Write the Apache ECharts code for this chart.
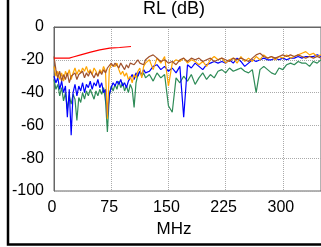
<!DOCTYPE html>
<html>
<head>
<meta charset="utf-8">
<script src="https://cdn.jsdelivr.net/npm/echarts@6/dist/echarts.min.js"></script>
<style>html,body{margin:0;padding:0;background:#fff}#c{width:321px;height:247px}</style>
</head>
<body>
<div id="c"></div>
<script>
const titleText = 'RL (dB)';
const xName = 'MHz';
const xTicks = [0, 75, 150, 225, 300];
const yTicks = [0, -20, -40, -60, -80, -100];

const freqs = [0,2.5,5,7.5,10,12.5,15,17.5,20,22.5,25,27.5,30,32.5,35,37.5,40,42.5,45,47.5,50,52.5,55,57.5,60,62.5,65,67.5,70,72.5,75,77.5,80,82.5,85,87.5,90,92.5,95,97.5,100,102.5,105,107.5,110,112.5,115,117.5,120,
125,130,135,140,145,150,155,160,165,170,175,180,185,190,195,200,205,210,215,220,225,230,235,240,245,250,255,260,265,270,275,280,285,290,295,300,305,310,315,320,325,330,335,340,345,350];

const brown = [-18,-26,-31,-27,-33,-29,-32,-28,-34,-30,-31,-28,-32,-29,-30,-27,-31,-28,-30,-27,-29,-31,-28,-30,-27,-29,-26,-28,-25,-24,-22,-24,-22,-23,-25,-22,-24,-26,-23,-25,-22,-21,-23,-22,-20,-22,-21,-23,-20,
-18,-17,-19,-21,-20,-22,-21,-23,-20,-19,-21,-19,-20,-19,-21,-20,-19,-21,-20,-19,-20,-21,-19,-20,-19,-20,-21,-19,-17,-16,-18,-19,-18,-19,-18,-17,-18,-17,-18,-17,-18,-19,-18,-19,-18,-19];

const orange = [-24,-30,-27,-32,-28,-33,-27,-30,-26,-32,-28,-25,-29,-26,-28,-25,-27,-24,-28,-26,-29,-25,-27,-30,-26,-28,-24,-27,-56,-26,-23,-22,-24,-22,-26,-29,-27,-30,-28,-32,-30,-34,-29,-31,-27,-25,-31,-24,-22,
-20,-26,-19,-22,-18,-36,-22,-20,-21,-19,-22,-20,-21,-23,-21,-24,-20,-18,-20,-19,-22,-20,-19,-22,-18,-21,-19,-21,-18,-20,-17,-19,-18,-20,-18,-19,-17,-19,-18,-17,-16,-15,-17,-16,-18,-17];

const blue = [-30,-34,-31,-38,-33,-40,-36,-55,-38,-66,-40,-35,-42,-36,-39,-34,-40,-35,-37,-33,-38,-34,-36,-32,-37,-34,-40,-38,-55,-41,-37,-34,-36,-33,-35,-32,-36,-34,-37,-33,-31,-29,-32,-28,-30,-27,-29,-26,-28,
-27,-24,-23,-26,-24,-27,-25,-28,-24,-55,-23,-25,-22,-24,-26,-23,-22,-21,-22,-21,-22,-20,-22,-19,-21,-24,-22,-20,-21,-20,-19,-20,-20,-19,-20,-19,-20,-19,-19,-18,-19,-18,-18,-18,-17,-18];

const green = [-32,-38,-35,-42,-37,-45,-40,-50,-42,-47,-41,-44,-57,-43,-46,-40,-44,-39,-42,-38,-41,-44,-39,-42,-38,-41,-37,-45,-64,-42,-36,-39,-35,-38,-33,-37,-34,-39,-36,-40,-35,-38,-49,-34,-29,-27,-30,-28,-31,
-29,-33,-28,-31,-29,-48,-52,-31,-34,-30,-33,-29,-35,-31,-28,-32,-29,-31,-27,-26,-28,-25,-27,-26,-25,-27,-28,-26,-40,-26,-24,-26,-28,-29,-25,-26,-23,-22,-23,-21,-22,-22,-24,-21,-22,-20];

const redFreqs = [0,10,20,25,35,48,60,73,86,101];
const red = [-19,-19,-19,-18.3,-17,-15.3,-13.9,-12.9,-12.5,-11.9];

function pairs(xs, ys){ return xs.map((x,i)=>[x, ys[i]]); }
function line(name, color, xs, ys){
  return {name, type:'line', data:pairs(xs, ys), showSymbol:false, symbol:'none',
    lineStyle:{color, width:1.2}, itemStyle:{color}, animation:false, z:2};
}

const chart = echarts.init(document.getElementById('c'), null, {renderer:'canvas'});
chart.setOption({
  animation:false,
  title:{text:titleText, left:174, top:0, textAlign:'center', padding:0,
    textStyle:{fontFamily:'Liberation Sans', fontSize:18, fontWeight:'normal', color:'#000'}},
  grid:{left:54, top:27, width:269, height:164, show:true, borderColor:'#666', borderWidth:1, backgroundColor:'transparent'},
  xAxis:{type:'value', min:xTicks[0], max:350, interval:75,
    name:xName, nameLocation:'middle', nameGap:29,
    nameTextStyle:{fontFamily:'Liberation Sans', fontSize:17, color:'#000', padding:[0,27,0,0]},
    axisLine:{show:true, lineStyle:{color:'#666'}}, axisTick:{show:false},
    axisLabel:{showMaxLabel:false, margin:9, fontFamily:'Liberation Sans', fontSize:16, color:'#000', padding:[0,4,0,0]},
    splitLine:{show:true, lineStyle:{type:'dotted', color:'#aaa', width:1}}},
  yAxis:{type:'value', min:yTicks[yTicks.length-1], max:yTicks[0], interval:20,
    axisLine:{show:true, lineStyle:{color:'#666'}}, axisTick:{show:false},
    axisLabel:{margin:10, fontFamily:'Liberation Sans', fontSize:16, color:'#000'},
    splitLine:{show:true, lineStyle:{type:'dotted', color:'#aaa', width:1}}},
  series:[
    line('green', '#2e8b57', freqs, green),
    line('blue', '#0000ff', freqs, blue),
    line('orange', '#ffa500', freqs, orange),
    line('brown', '#a0522d', freqs, brown),
    line('red', '#ff0000', redFreqs, red)
  ],
  graphic:[{type:'rect', shape:{x:8, y:-20, width:420, height:264.5}, style:{fill:'none', stroke:'#000', lineWidth:2.5}, z:100}]
});
</script>
</body>
</html>
